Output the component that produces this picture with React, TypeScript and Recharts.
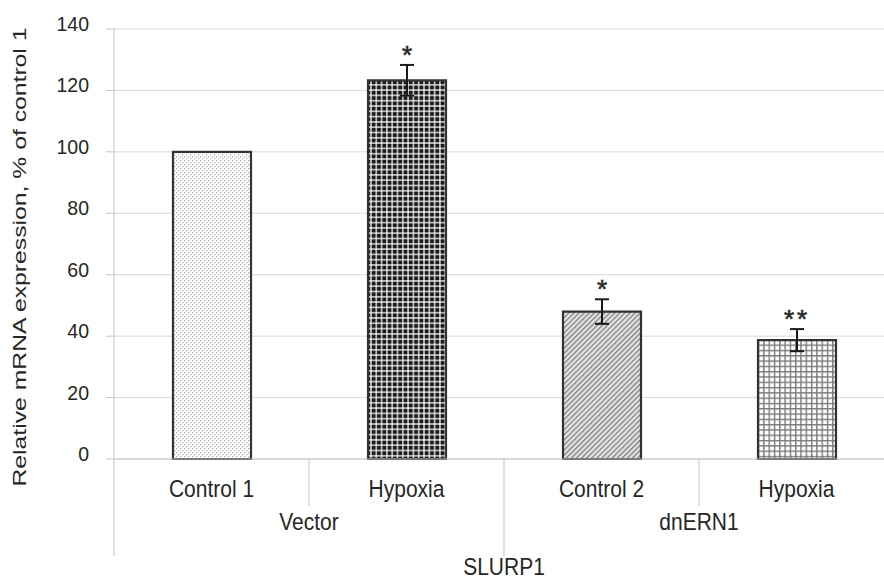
import React from 'react';
import { BarChart, Bar, XAxis, YAxis, CartesianGrid, ErrorBar, Cell, LabelList } from 'recharts';

// ---- data ----
const categories = ['Control 1', 'Hypoxia', 'Control 2', 'Hypoxia'];
const groups = ['Vector', 'Vector', 'dnERN1', 'dnERN1'];
const geneLabel = 'SLURP1';
const expression = [100, 123.3, 48, 38.7];
const errors = [0, 5, 4, 3.6];
const significance = ['', '*', '*', '**'];
const yTicks = [0, 20, 40, 60, 80, 100, 120, 140];
const yLabel = 'Relative mRNA expression, % of control 1';

const data = categories.map((c, i) => ({
  key: `c${i}`,
  label: c,
  group: groups[i],
  value: expression[i],
  err: errors[i],
  sig: significance[i],
}));

// ---- layout ----
const FONT = '"Liberation Sans", Arial, Helvetica, sans-serif';
const CHART_W = 900;
const CHART_H = 579;
const MARGIN = { top: 29, right: 6, left: 0, bottom: 0 };
const Y_AXIS_W = 114;
const X_AXIS_H = 120;
const BAND = (CHART_W - MARGIN.left - MARGIN.right - Y_AXIS_W) / categories.length;
const TEXT = '#262626';
const GRID = '#d9d9d9';
const AXIS = '#c4c4c4';
const patternIds = ['patCtrl1', 'patHyp1', 'patCtrl2', 'patHyp2'];

const StretchText = ({ x, y, sy = 1.18, size = 21, anchor = 'middle', children }: any) => (
  <text
    transform={`translate(${x} ${y}) scale(1 ${sy})`}
    x={0}
    y={0}
    textAnchor={anchor}
    fontSize={size}
    fill={TEXT}
    fontFamily={FONT}
  >
    {children}
  </text>
);

const XTick = (props: any) => {
  const { x, y } = props;
  const i: number = props.index ?? props.payload?.index ?? 0;
  const half = BAND / 2;
  const newGroup = i === 0 || groups[i] !== groups[i - 1];
  let n = 0;
  while (i + n < groups.length && groups[i + n] === groups[i]) n++;
  return (
    <g>
      <StretchText x={x} y={y + 38}>{categories[i]}</StretchText>
      <line x1={x - half} x2={x - half} y1={y} y2={y + (newGroup ? 97 : 47)} stroke={AXIS} strokeWidth={1} />
      {newGroup && <StretchText x={x - half + n * half} y={y + 71}>{groups[i]}</StretchText>}
      {i === 0 && (
        <StretchText x={x - half + categories.length * half} y={y + 116}>
          {geneLabel}
        </StretchText>
      )}
    </g>
  );
};

const YTick = (props: any) => {
  const { x, y, payload } = props;
  return (
    <StretchText x={x} y={y + 2} sy={1.08} size={19.5} anchor="end">
      {payload.value}
    </StretchText>
  );
};

const YLabel = (props: any) => {
  const vb = props.viewBox || { x: 0, y: MARGIN.top, width: Y_AXIS_W, height: 430 };
  const cx = vb.x + 26;
  const cy = vb.y + vb.height / 2 + 13;
  return (
    <text
      x={cx}
      y={cy}
      transform={`rotate(-90 ${cx} ${cy})`}
      textAnchor="middle"
      fontSize={18}
      fill={TEXT}
      fontFamily={FONT}
      textLength={459}
      lengthAdjust="spacingAndGlyphs"
    >
      {yLabel}
    </text>
  );
};

const SigLabel = (props: any) => {
  const vb = props.viewBox && props.viewBox.width != null ? props.viewBox : props;
  const { x, y, width, height } = vb;
  const index: number = props.index;
  const value = props.value;
  if (!value) return null;
  const pxPerUnit = height / expression[index];
  const top = y - errors[index] * pxPerUnit;
  return (
    <text
      x={x + width / 2}
      y={top - 1}
      textAnchor="middle"
      fontSize={26}
      fill="#2a2a2a"
      stroke="#2a2a2a"
      strokeWidth={0.6}
      fontFamily={FONT}
      letterSpacing={value.length > 1 ? 3 : 0}
    >
      {value}
    </text>
  );
};

const Patterns = () => (
  <svg width={0} height={0} style={{ position: 'absolute' }}>
    <defs>
      <pattern id="patCtrl1" width={4} height={4} patternUnits="userSpaceOnUse">
        <rect width={4} height={4} fill="#ffffff" />
        <rect x={0} y={0} width={1.3} height={1.3} fill="#b4b4b4" />
        <rect x={2} y={2} width={1.3} height={1.3} fill="#b4b4b4" />
      </pattern>
      <pattern id="patHyp1" width={5.3} height={5.3} patternUnits="userSpaceOnUse">
        <rect width={5.3} height={5.3} fill="#ffffff" />
        <rect x={0.6} y={0.6} width={4.1} height={4.1} fill="#1c1c1c" />
      </pattern>
      <pattern id="patCtrl2" width={3.6} height={3.6} patternUnits="userSpaceOnUse" patternTransform="rotate(45)">
        <rect width={3.6} height={3.6} fill="#e6e6e6" />
        <rect x={0} y={0} width={1.4} height={3.6} fill="#858585" />
      </pattern>
      <pattern id="patHyp2" width={5.3} height={5.3} patternUnits="userSpaceOnUse">
        <rect width={5.3} height={5.3} fill="#ffffff" />
        <rect x={0} y={0} width={5.3} height={1.4} fill="#7a7a7a" />
        <rect x={0} y={0} width={1.4} height={5.3} fill="#7a7a7a" />
      </pattern>
    </defs>
  </svg>
);

export default function App() {
  return (
    <div style={{ position: 'absolute', left: 0, top: 0, width: 884, height: 579, overflow: 'hidden', background: '#fff' }}>
      <Patterns />
      <BarChart width={CHART_W} height={CHART_H} data={data} margin={MARGIN}>
        <CartesianGrid vertical={false} stroke={GRID} strokeWidth={1} />
        <XAxis
          dataKey="key"
          height={X_AXIS_H}
          interval={0}
          tickSize={0}
          tickMargin={0}
          tickLine={false}
          axisLine={{ stroke: AXIS, strokeWidth: 1 }}
          tick={<XTick />}
        />
        <YAxis
          width={Y_AXIS_W}
          domain={[0, 140]}
          ticks={yTicks}
          interval={0}
          tickSize={8}
          tickMargin={17}
          axisLine={{ stroke: AXIS, strokeWidth: 1 }}
          tickLine={{ stroke: AXIS, strokeWidth: 1 }}
          tick={<YTick />}
          label={{ content: <YLabel /> } as any}
        />
        <Bar dataKey="value" barSize={78} stroke="#333" strokeWidth={2.2} isAnimationActive={false}>
          {data.map((d, i) => (
            <Cell key={d.key} fill={`url(#${patternIds[i]})`} />
          ))}
          <ErrorBar dataKey="err" width={7} stroke="#1a1a1a" strokeWidth={2} direction="y" />
          <LabelList dataKey="sig" content={<SigLabel />} />
        </Bar>
      </BarChart>
    </div>
  );
}
